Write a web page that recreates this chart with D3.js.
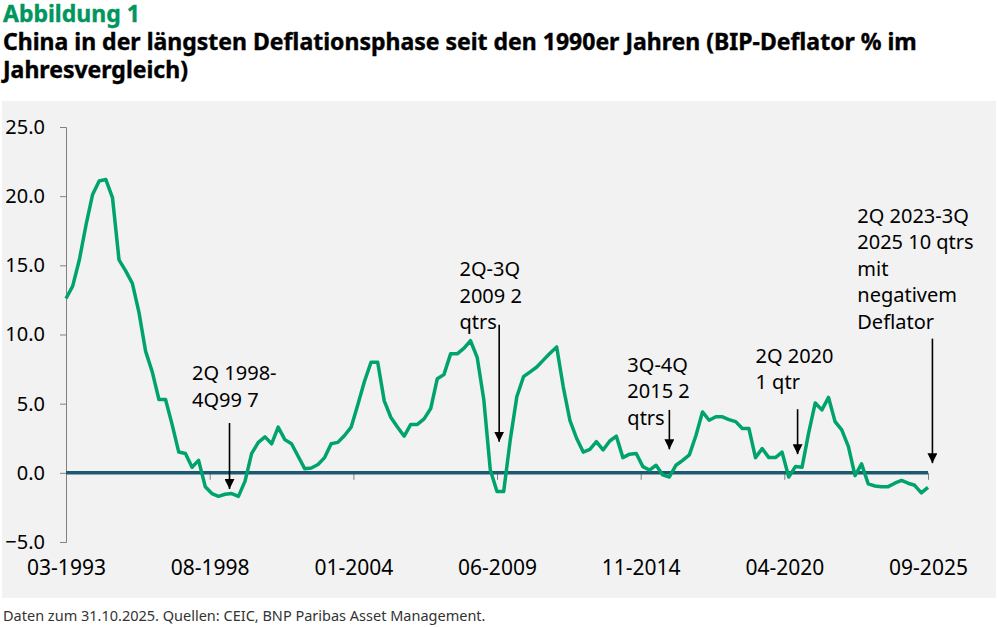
<!DOCTYPE html>
<html>
<head>
<meta charset="utf-8">
<script src="https://cdn.jsdelivr.net/npm/d3@7"></script>
<style>
  body { margin: 0; background: #fff; }
  svg { display: block; font-family: "Noto Sans", sans-serif; }
</style>
</head>
<body>
<svg id="chart" width="998" height="627"></svg>
<script>
// BIP-Deflator % y/y, quartalsweise ab 1Q 1993 bis 3Q 2025
var startQuarter = "1993-03";
var deflator = [
  12.6, 13.5, 15.4, 17.9, 20.1, 21.1, 21.2, 19.9, 15.4, 14.6,
  13.7, 11.6, 8.8, 7.3, 5.3, 5.3, 3.5, 1.5, 1.4, 0.4,
  0.9, -1.0, -1.5, -1.7, -1.55, -1.5, -1.7, -0.6, 1.4, 2.2,
  2.6, 2.1, 3.3, 2.4, 2.1, 1.2, 0.3, 0.35, 0.6, 1.1,
  2.1, 2.2, 2.7, 3.3, 4.9, 6.6, 8.0, 8.0, 5.2, 4.0,
  3.3, 2.65, 3.5, 3.5, 3.9, 4.65, 6.8, 7.1, 8.6, 8.6,
  9.0, 9.55, 8.35, 5.3, 0.2, -1.35, -1.35, 2.4, 5.5, 6.95,
  7.3, 7.65, 8.15, 8.65, 9.1, 6.2, 3.8, 2.5, 1.5, 1.7,
  2.25, 1.65, 2.3, 2.65, 1.1, 1.35, 1.4, 0.45, 0.2, 0.55,
  -0.15, -0.3, 0.55, 0.9, 1.3, 2.7, 4.4, 3.8, 4.05, 4.05,
  3.85, 3.7, 3.2, 3.2, 1.1, 1.75, 1.1, 1.1, 1.5, -0.3,
  0.45, 0.4, 2.85, 5.05, 4.55, 5.45, 3.7, 3.1, 1.9, -0.2,
  0.65, -0.8, -0.95, -1.0, -1.0, -0.75, -0.55, -0.75, -0.9, -1.45,
  -1.05
];

var xTicks = ["1993-03", "1998-08", "2004-01", "2009-06", "2014-11", "2020-04", "2025-09"];
var yTicks = [-5, 0, 5, 10, 15, 20, 25];

// Anmerkungen: Pfeil (Datum, von/bis Wert) und Textanker (Datum, Wert)
var noteLines = [
  ["2Q 1998-", "4Q99 7"],
  ["2Q-3Q", "2009 2", "qtrs"],
  ["3Q-4Q", "2015 2", "qtrs"],
  ["2Q 2020", "1 qtr"],
  ["2Q 2023-3Q", "2025 10 qtrs", "mit", "negativem", "Deflator"]
];
var noteArrowDate = ["1999-05", "2009-07", "2015-12", "2020-10", "2025-11"];
var noteArrowFrom = [3.6, 10.7, 4.55, 4.6, 9.7];
var noteArrowTo = [-1.17, 2.25, 1.7, 1.35, 0.7];
var noteTextDate = ["1997-12", "2008-01", "2014-05", "2019-03", "2023-01"];
var noteTextValue = [7.2, 14.7, 7.8, 8.45, 18.6];

var parse = d3.timeParse("%Y-%m");
var start = parse(startQuarter);
var data = deflator.map((v, i) => ({ date: d3.timeMonth.offset(start, 3 * i), value: v }));

var svg = d3.select("#chart");

svg.append("rect")
    .attr("x", 2).attr("y", 101)
    .attr("width", 994).attr("height", 497)
    .attr("fill", "#f2f2f2");

svg.append("text")
    .attr("x", 3).attr("y", 22)
    .attr("font-size", "23px")
    .attr("font-weight", "bold")
    .attr("fill", "#00965e")
    .attr("stroke", "#00965e")
    .attr("stroke-width", 0.4)
    .text("Abbildung 1");

var titleLines = ["China in der längsten Deflationsphase seit den 1990er Jahren (BIP-Deflator % im",
                  "Jahresvergleich)"];
titleLines.forEach((s, i) => {
  svg.append("text")
      .attr("x", 3).attr("y", 50 + 28 * i)
      .attr("font-size", "23px")
      .attr("font-weight", "bold")
      .attr("fill", "#000")
      .attr("stroke", "#000")
      .attr("stroke-width", 0.4)
      .text(s);
});

svg.append("text")
    .attr("x", 3).attr("y", 621)
    .attr("font-size", "14.5px")
    .attr("fill", "#333")
    .text("Daten zum 31.10.2025. Quellen: CEIC, BNP Paribas Asset Management.");

var x = d3.scaleTime()
    .domain([start, data[data.length - 1].date])
    .range([66, 928]);

var y = d3.scaleLinear()
    .domain([-5, 25])
    .range([542, 127]);

// y-Achse
var yAxis = svg.append("g")
    .attr("transform", "translate(66,0)")
    .call(d3.axisLeft(y)
      .tickValues(yTicks)
      .tickFormat(d3.format(".1f"))
      .tickSize(6)
      .tickPadding(15));
yAxis.selectAll("path, line").attr("stroke", "#808080");
yAxis.selectAll("text")
    .attr("font-size", "20px")
    .attr("font-family", "Noto Sans, sans-serif")
    .attr("fill", "#000");

// x-Achse (Ticks an der Nulllinie, Beschriftung unten)
var xAxis = svg.append("g")
    .attr("transform", "translate(0," + y(0) + ")")
    .call(d3.axisBottom(x)
      .tickValues(xTicks.map(parse))
      .tickFormat(d3.timeFormat("%m-%Y"))
      .tickSize(7));
xAxis.select(".domain").remove();
xAxis.selectAll("line").attr("stroke", "#808080");
xAxis.selectAll("text")
    .attr("y", 568 - y(0))
    .attr("dy", "0.35em")
    .attr("font-size", "21px")
    .attr("font-family", "Noto Sans, sans-serif")
    .attr("fill", "#000");

// Nulllinie
svg.append("line")
    .attr("x1", x.range()[0]).attr("x2", x.range()[1])
    .attr("y1", y(0)).attr("y2", y(0))
    .attr("stroke", "#1b5a6e")
    .attr("stroke-width", 3.5);

var line = d3.line()
    .x(d => x(d.date))
    .y(d => y(d.value));

svg.append("path")
    .datum(data)
    .attr("fill", "none")
    .attr("stroke", "#00a36c")
    .attr("stroke-width", 3.5)
    .attr("stroke-linejoin", "round")
    .attr("d", line);

// Pfeile
svg.append("defs").append("marker")
    .attr("id", "arrow")
    .attr("viewBox", "0 0 10 10")
    .attr("refX", 10).attr("refY", 5)
    .attr("markerWidth", 10).attr("markerHeight", 10)
    .attr("markerUnits", "userSpaceOnUse")
    .attr("orient", "auto")
  .append("path")
    .attr("d", "M0,0 L10,5 L0,10 Z")
    .attr("fill", "#000");

var notes = svg.append("g");
noteLines.forEach((lines, k) => {
  var ax = x(parse(noteArrowDate[k]));
  notes.append("line")
      .attr("x1", ax).attr("x2", ax)
      .attr("y1", y(noteArrowFrom[k]))
      .attr("y2", y(noteArrowTo[k]))
      .attr("stroke", "#000")
      .attr("stroke-width", 1.6)
      .attr("marker-end", "url(#arrow)");

  var t = notes.append("text")
      .attr("x", x(parse(noteTextDate[k])))
      .attr("y", y(noteTextValue[k]))
      .attr("font-size", "20px")
      .attr("fill", "#000");
  lines.forEach((s, j) => {
    t.append("tspan")
        .attr("x", x(parse(noteTextDate[k])))
        .attr("dy", j === 0 ? "0.35em" : "26.5px")
        .text(s);
  });
});
</script>
</body>
</html>
